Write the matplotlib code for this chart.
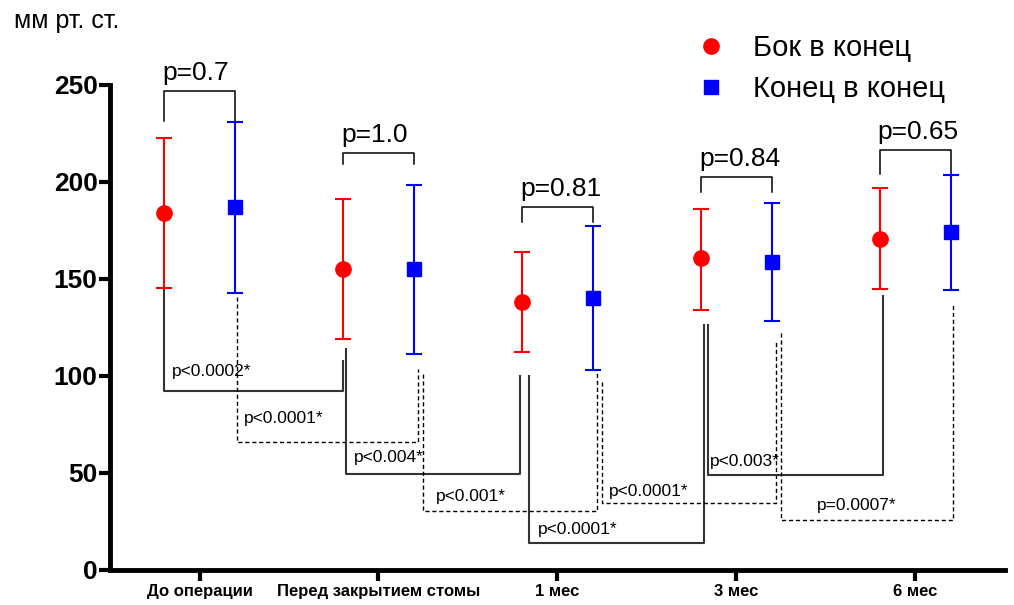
import numpy as np
import matplotlib
matplotlib.use("Agg")
import matplotlib.pyplot as plt
from matplotlib.lines import Line2D

plt.rcParams['font.family'] = ['Liberation Sans', 'DejaVu Sans']

categories = ['До операции', 'Перед закрытием стомы', '1 мес', '3 мес', '6 мес']

red_mean = [184, 155, 138, 160.5, 170.5]
red_lo = [145, 119, 112.5, 134, 144.5]
red_hi = [222.5, 191, 164, 186, 197]

blue_mean = [187, 155, 140, 158.5, 174]
blue_lo = [142.5, 111.5, 103, 128.5, 144]
blue_hi = [231, 198.5, 177, 189, 203.5]

# p-values between groups at the same time point
top_p = ['p=0.7', 'p=1.0', 'p=0.81', 'p=0.84', 'p=0.65']
top_bar = [247, 215, 187, 202.5, 216.5]
top_leg = [231.5, 209, 179.5, 194.5, 204]

# p-values between consecutive time points
# (x0, x1, left top, right top, bottom, label, dashed, text x, text y)
low_p = [
    (-0.2, 0.8, 144, 107.7, 92, 'p<0.0002*', False, -0.155, 102),
    (0.21, 1.22, 140.6, 103.6, 66, 'p<0.0001*', True, 0.25, 78),
    (0.82, 1.79, 114, 100, 49.5, 'p<0.004*', False, 0.865, 58),
    (1.25, 2.22, 101, 102, 30.5, 'p<0.001*', True, 1.32, 38),
    (1.84, 2.82, 100, 126, 14, 'p<0.0001*', False, 1.89, 21),
    (2.25, 3.22, 97, 118, 34.5, 'p<0.0001*', True, 2.29, 40.5),
    (2.84, 3.82, 126, 141, 49, 'p<0.003*', False, 2.85, 56),
    (3.25, 4.21, 122, 137, 25.7, 'p=0.0007*', True, 3.45, 33),
]

x = np.arange(len(categories))
off = 0.2

fig = plt.figure(figsize=(10.14, 6.05), dpi=100)
ax = fig.add_axes([0.1085, 0.058, 0.8825, 0.802])

rm = np.array(red_mean)
bm = np.array(blue_mean)
ax.errorbar(x - off, rm, yerr=[rm - np.array(red_lo), np.array(red_hi) - rm],
            fmt='o', color='#ff0000', ms=11, capsize=6, elinewidth=1.5,
            capthick=1.5, zorder=3)
ax.errorbar(x + off, bm, yerr=[bm - np.array(blue_lo), np.array(blue_hi) - bm],
            fmt='s', color='#0000ff', ms=10.5, capsize=6, elinewidth=1.5,
            capthick=1.5, zorder=3)

for i in range(len(categories)):
    ax.plot([i - off, i - off, i + off, i + off],
            [top_leg[i], top_bar[i], top_bar[i], top_leg[i]],
            color='black', lw=1.1, clip_on=False)
    ax.text(i - off - 0.01, top_bar[i] + 3, top_p[i], ha='left', va='bottom',
            fontsize=19, clip_on=False)

for x0, x1, yl, yr, yb, lab, dashed, tx, ty in low_p:
    if dashed:
        ax.plot([x0, x0, x1, x1], [yl, yb, yb, yr], color='black', lw=1,
                ls=(0, (3, 2)))
    else:
        ax.plot([x0, x0, x1, x1], [yl, yb, yb, yr], color='#333333', lw=1.5)
    ax.text(tx, ty, lab, ha='left', va='center', fontsize=12.5)

ax.set_xlim(-0.5, 4.5)
ax.set_ylim(0, 250)
ax.set_yticks([0, 50, 100, 150, 200, 250])
ax.set_xticks(x)
ax.set_xticklabels(categories, fontsize=12, fontweight='bold')
for t in ax.get_yticklabels():
    t.set_fontweight('bold')
    t.set_fontsize(19)
ax.tick_params(axis='both', width=3, length=8, pad=2)
ax.tick_params(axis='y', pad=1)
for s in ['top', 'right']:
    ax.spines[s].set_visible(False)
for s in ['left', 'bottom']:
    ax.spines[s].set_linewidth(3.5)

handles = [Line2D([], [], ls='none', marker='o', color='#ff0000', ms=11),
           Line2D([], [], ls='none', marker='s', color='#0000ff', ms=10.5)]
fig.legend(handles, ['Бок в конец', 'Конец в конец'], loc='upper left',
           bbox_to_anchor=(689 / 1014, 1 - 34 / 605), frameon=False,
           fontsize=21, handletextpad=0.7, labelspacing=0.45,
           handlelength=1.5, borderpad=0, borderaxespad=0)

fig.text(0.014, 0.966, 'мм рт. ст.', fontsize=18, va='center', ha='left')

fig.savefig('out.png', dpi=100)
